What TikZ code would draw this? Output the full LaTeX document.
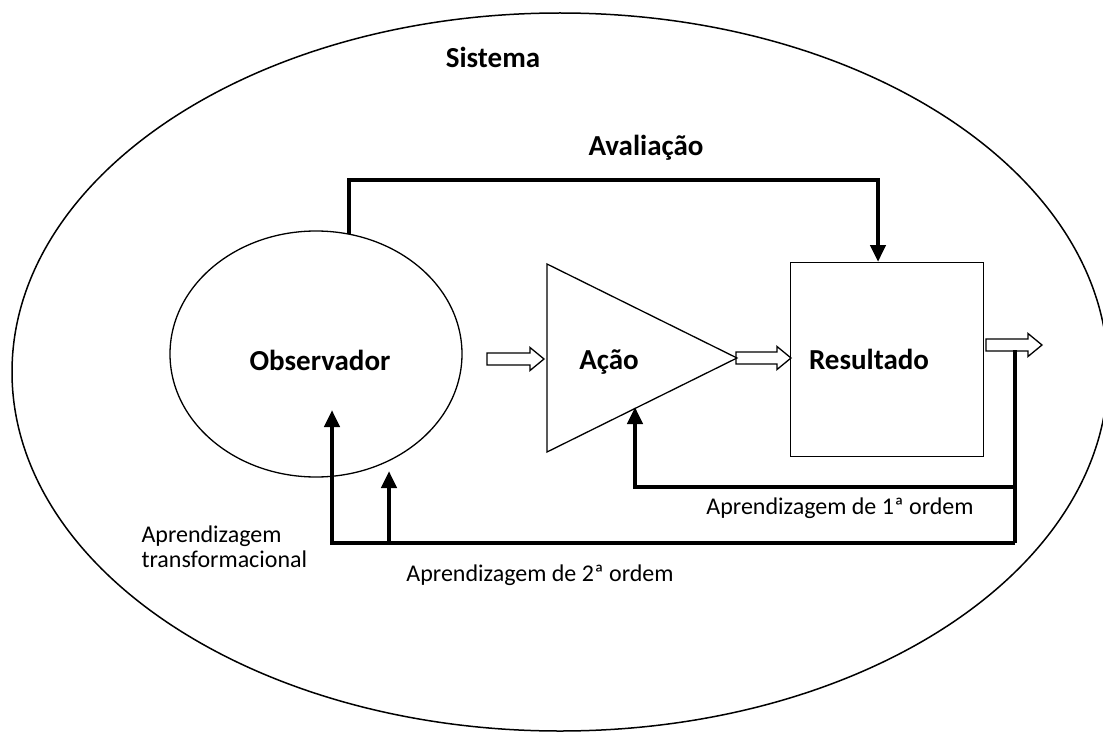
\documentclass[tikz,border=0pt]{standalone}
\usepackage{fontspec}
\setmainfont{Carlito}
\usetikzlibrary{shapes.geometric,arrows.meta,calc}

% hollow block arrow: start x, tip x, centre y
\newcommand\hollowarrow[3]{%
  \draw[outline] (#1,#3-6) -- (#2-14,#3-6) -- (#2-14,#3-11.5) -- (#2,#3)
    -- (#2-14,#3+11.5) -- (#2-14,#3+6) -- (#1,#3+6) -- cycle;}

\begin{document}
\begin{tikzpicture}[x=1pt,y=-1pt,
  outline/.style={line width=1.3pt},
  feedback/.style={line width=4.5pt, line join=miter},
  fbarrow/.style={feedback, -{Triangle[length=17pt,width=15pt]}},
  title/.style={font=\bfseries\fontsize{29}{34}\selectfont, text height=0.7em, text depth=0.25em},
  caption/.style={font=\fontsize{24}{25}\selectfont}]
\useasboundingbox (0,0) rectangle (1103,733);

% the surrounding system
\begin{scope}
  \clip (0,0) rectangle (1103,733);
  \draw[line width=1.5pt] (560,372) ellipse [x radius=548, y radius=359];
\end{scope}
\node[title] (sis) at (493,65) {Sistema};

% observer
\node[ellipse, draw, outline, minimum width=292pt, minimum height=246pt] (obs) at (316,354) {};
\node[title] at (320,368) {Observador};

% action (triangle)
\coordinate (triTop) at (547,264);
\coordinate (triTip) at (737,358);
\coordinate (triBot) at (547,452);
\draw[outline] (triTop) -- (triTip) -- (triBot) -- cycle;
\node[title] at (609,367) {Ação};

% result
\node[draw, outline, anchor=north west, minimum width=193pt, minimum height=194pt] (res) at (790,262) {};
\node[title] at (869,367) {Resultado};

% forward flow
\hollowarrow{487}{544}{359}
\hollowarrow{736}{791}{358}
\hollowarrow{986}{1042}{345}

% evaluation loop
\coordinate (avA) at (349,234);
\coordinate (avB) at (878,262);
\draw[fbarrow] (avA) -- (349,180) -| (avB);
\node[title] at (646,153) {Avaliação};

% first order learning
\coordinate (r1) at (1015,350);
\coordinate (c1) at (1015,543);
\coordinate (t1) at (635,407);
\draw[feedback] (r1) -- (c1);
\draw[fbarrow] (1015,487) -| (t1);
\node[caption] at (840,508) {Aprendizagem de 1ª ordem};

% second order and transformational learning
\coordinate (t2) at (332,410);
\coordinate (t3) at (389,471);
\draw[fbarrow] (c1) -| (t2);
\draw[fbarrow] (389,543) -- (t3);
\node[caption] at (540,575) {Aprendizagem de 2ª ordem};
\node[caption, align=left, anchor=west] at (138,547) {Aprendizagem\\transformacional};
\end{tikzpicture}
\end{document}
